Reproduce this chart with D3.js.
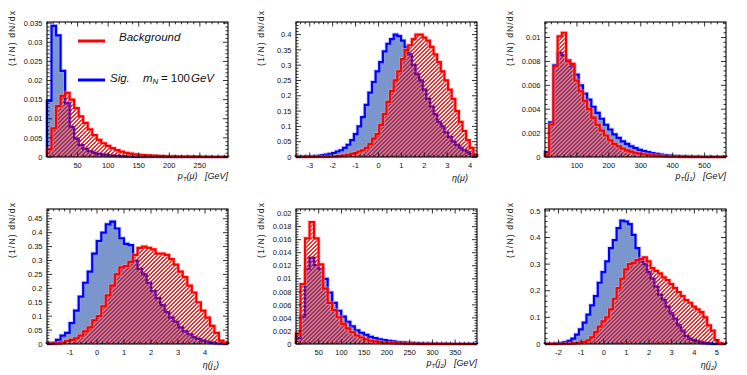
<!DOCTYPE html>
<html>
<head>
<meta charset="utf-8">
<script src="https://cdn.jsdelivr.net/npm/d3@7/dist/d3.min.js"></script>
<style>
  body { margin: 0; background: #fff; }
  svg { font-family: "Liberation Sans", Arial, Helvetica, sans-serif; }
  text { white-space: pre; }
</style>
</head>
<body>
<div id="chart"></div>
<script>
// ---- data (normalised bin contents) ----
// pT(mu), 40 bins
const ptMuSig = [0.0147, 0.0343, 0.0318, 0.0225, 0.0140, 0.0078, 0.0048, 0.0031, 0.0021, 0.0015,
  0.0011, 0.0008, 0.0006, 0.00045, 0.00035, 0.00028, 0.00022, 0.00018, 0.00014, 0.00011,
  0.00009, 0.00007, 0.00006, 0.00005, 0.00004, 0.00003, 0.00003, 0.00002, 0.00002, 0.00002,
  0.00001, 0.00001, 0.00001, 0.00001, 0.00001, 0.00001, 0, 0, 0, 0];
const ptMuBkg = [0.0020, 0.0075, 0.0133, 0.0160, 0.0168, 0.0150, 0.0128, 0.0106, 0.0089, 0.0072,
  0.0057, 0.0045, 0.0036, 0.0029, 0.0023, 0.0018, 0.0014, 0.0011, 0.0009, 0.0007,
  0.00058, 0.00048, 0.0004, 0.00034, 0.00028, 0.00024, 0.0002, 0.00017, 0.00015, 0.00013,
  0.00011, 0.0001, 0.00009, 0.00008, 0.00007, 0.00006, 0.00005, 0.00005, 0.00004, 0.00004];

// eta(mu), 50 bins
const etaMuSig = [0.001, 0.001, 0.001, 0.002, 0.002, 0.003, 0.004, 0.006, 0.008, 0.010,
  0.013, 0.018, 0.022, 0.030, 0.040, 0.055, 0.075, 0.100, 0.130, 0.170,
  0.210, 0.245, 0.280, 0.310, 0.345, 0.370, 0.385, 0.400, 0.395, 0.380,
  0.360, 0.335, 0.300, 0.270, 0.250, 0.220, 0.190, 0.165, 0.140, 0.115,
  0.100, 0.080, 0.065, 0.050, 0.040, 0.030, 0.022, 0.015, 0.010, 0.003];
const etaMuBkg = [0.001, 0.001, 0.001, 0.001, 0.001, 0.001, 0.001, 0.001, 0.001, 0.002,
  0.002, 0.003, 0.004, 0.005, 0.007, 0.010, 0.013, 0.018, 0.022, 0.030,
  0.042, 0.060, 0.075, 0.105, 0.140, 0.180, 0.215, 0.250, 0.280, 0.320,
  0.350, 0.365, 0.385, 0.400, 0.400, 0.390, 0.380, 0.360, 0.335, 0.310,
  0.280, 0.250, 0.220, 0.190, 0.150, 0.115, 0.085, 0.055, 0.030, 0.005];

// pT(j1), 43 bins
const ptJ1Sig = [0.0004, 0.0029, 0.0077, 0.0087, 0.0085, 0.0081, 0.0076, 0.0069, 0.0060, 0.0053,
  0.0048, 0.0042, 0.0037, 0.0032, 0.0027, 0.0023, 0.0019, 0.0016, 0.0013, 0.0011,
  0.0009, 0.00075, 0.0006, 0.0005, 0.0004, 0.00032, 0.00026, 0.0002, 0.00016, 0.00013,
  0.0001, 0.00008, 0.00006, 0.00005, 0.00004, 0.00003, 0.00003, 0.00002, 0.00002, 0.00001,
  0.00001, 0.00001, 0.00001];
const ptJ1Bkg = [0.0002, 0.0027, 0.0076, 0.0101, 0.0104, 0.0080, 0.0078, 0.0064, 0.0055, 0.0047,
  0.0040, 0.0033, 0.0027, 0.0022, 0.0018, 0.0014, 0.0011, 0.0009, 0.0007, 0.00055,
  0.00045, 0.00035, 0.00028, 0.00022, 0.00018, 0.00014, 0.00011, 0.00009, 0.00007, 0.00006,
  0.00005, 0.00004, 0.00003, 0.00003, 0.00002, 0.00002, 0.00002, 0.00001, 0.00001, 0.00001,
  0.00001, 0.00001, 0.00001];

// eta(j1), 40 bins
const etaJ1Sig = [0.002, 0.004, 0.015, 0.030, 0.040, 0.075, 0.120, 0.170, 0.220, 0.260,
  0.325, 0.370, 0.400, 0.430, 0.440, 0.415, 0.380, 0.360, 0.355, 0.300,
  0.270, 0.250, 0.220, 0.190, 0.165, 0.140, 0.115, 0.095, 0.080, 0.060,
  0.045, 0.035, 0.025, 0.018, 0.012, 0.008, 0.005, 0.003, 0.002, 0.001];
const etaJ1Bkg = [0.001, 0.001, 0.002, 0.005, 0.010, 0.015, 0.020, 0.030, 0.045, 0.060,
  0.085, 0.100, 0.135, 0.175, 0.210, 0.250, 0.275, 0.280, 0.295, 0.320,
  0.345, 0.350, 0.345, 0.340, 0.325, 0.325, 0.320, 0.305, 0.285, 0.260,
  0.240, 0.210, 0.185, 0.150, 0.120, 0.095, 0.065, 0.040, 0.012, 0.002];

// pT(j2), 40 bins
const ptJ2Sig = [0.0009, 0.0042, 0.0115, 0.0132, 0.0121, 0.0115, 0.0100, 0.0079, 0.0063, 0.0051,
  0.0042, 0.0034, 0.0027, 0.0021, 0.0017, 0.0014, 0.0011, 0.0009, 0.0007, 0.0006,
  0.0005, 0.0004, 0.0003, 0.00025, 0.0002, 0.00016, 0.00013, 0.0001, 0.00008, 0.00006,
  0.00005, 0.00004, 0.00003, 0.00003, 0.00002, 0.00002, 0.00001, 0.00001, 0.00001, 0.00001];
const ptJ2Bkg = [0.0016, 0.0092, 0.0162, 0.0187, 0.0162, 0.0122, 0.0085, 0.0063, 0.0052, 0.0041,
  0.0031, 0.0024, 0.0018, 0.0013, 0.0010, 0.0007, 0.0005, 0.0004, 0.0003, 0.0002,
  0.00015, 0.00012, 0.0001, 0.00008, 0.00006, 0.00005, 0.00004, 0.00003, 0.00002, 0.00002,
  0.00001, 0.00001, 0.00001, 0.00001, 0, 0, 0, 0, 0, 0];

// eta(j2), 48 bins
const etaJ2Sig = [0.0005, 0.001, 0.001, 0.002, 0.004, 0.007, 0.012, 0.020, 0.035, 0.055,
  0.080, 0.110, 0.145, 0.180, 0.230, 0.270, 0.310, 0.360, 0.390, 0.435,
  0.463, 0.460, 0.450, 0.410, 0.360, 0.310, 0.300, 0.270, 0.245, 0.215,
  0.185, 0.165, 0.140, 0.115, 0.095, 0.070, 0.050, 0.030, 0.020, 0.015,
  0.010, 0.006, 0.003, 0.002, 0.001, 0.0005, 0.0005, 0.0005];
const etaJ2Bkg = [0.0005, 0.0005, 0.0005, 0.001, 0.001, 0.001, 0.0015, 0.002, 0.003, 0.005,
  0.008, 0.014, 0.025, 0.045, 0.065, 0.085, 0.100, 0.130, 0.170, 0.210,
  0.245, 0.280, 0.300, 0.305, 0.315, 0.320, 0.325, 0.310, 0.285, 0.275,
  0.265, 0.250, 0.240, 0.225, 0.210, 0.195, 0.180, 0.165, 0.155, 0.140,
  0.130, 0.120, 0.100, 0.070, 0.050, 0.015, 0.002, 0.001];

// axis ranges and tick values
const xRanges = [[0, 296], [-3.6, 4.3], [0, 567], [-1.85, 4.85], [0, 398], [-2.6, 5.4]];
const yMaxes = [0.0353, 0.441, 0.0113, 0.485, 0.0207, 0.507];
const xTickVals = [
  [50, 100, 150, 200, 250],
  [-3, -2, -1, 0, 1, 2, 3, 4],
  [100, 200, 300, 400, 500],
  [-1, 0, 1, 2, 3, 4],
  [50, 100, 150, 200, 250, 300, 350],
  [-2, -1, 0, 1, 2, 3, 4, 5]
];
const xMinorSteps = [10, 0.2, 20, 0.2, 10, 0.2];
const yTickVals = [
  [0, 0.005, 0.01, 0.015, 0.02, 0.025, 0.03, 0.035],
  [0, 0.05, 0.1, 0.15, 0.2, 0.25, 0.3, 0.35, 0.4],
  [0, 0.002, 0.004, 0.006, 0.008, 0.01],
  [0, 0.05, 0.1, 0.15, 0.2, 0.25, 0.3, 0.35, 0.4, 0.45],
  [0, 0.002, 0.004, 0.006, 0.008, 0.01, 0.012, 0.014, 0.016, 0.018, 0.02],
  [0, 0.1, 0.2, 0.3, 0.4, 0.5]
];
const yMinorSteps = [0.001, 0.01, 0.0004, 0.01, 0.0004, 0.02];
// x titles: [italic main, subscript, argument, unit, argument subscript]
const xTitles = [["p", "T", "(\u03bc)", "[GeV]"], ["\u03b7", "", "(\u03bc)", ""], ["p", "T", "(j", "[GeV]", "1"],
  ["\u03b7", "", "(j", "", "1"], ["p", "T", "(j", "[GeV]", "2"], ["\u03b7", "", "(j", "", "2"]];
const yTitle = "(1/N) dN/dx";
const legendLabels = ["Background", "Sig."];

const sigSeries = [ptMuSig, etaMuSig, ptJ1Sig, etaJ1Sig, ptJ2Sig, etaJ2Sig];
const bkgSeries = [ptMuBkg, etaMuBkg, ptJ1Bkg, etaJ1Bkg, ptJ2Bkg, etaJ2Bkg];

// ---- layout ----
const width = 747, height = 375;
const colX = [47, 296, 545], rowY = [22, 209];
const frameW = 181, frameH = 135;
const sigFill = "#7a96cd", sigLine = "#0000ff", bkgLine = "#ff0000";

const svg = d3.select("#chart").append("svg")
  .attr("width", width).attr("height", height);

// pixel hatch, "/" direction like root's 3004 style
const defs = svg.append("defs");
const hatch = defs.append("pattern")
  .attr("id", "hatch")
  .attr("patternUnits", "userSpaceOnUse")
  .attr("width", 4).attr("height", 4);
[[0, 3, 2], [1, 2, 2], [2, 1, 2], [3, 0, 1], [0, 0, 1]].forEach(([px, py, w]) => {
  hatch.append("rect").attr("x", px).attr("y", py).attr("width", w).attr("height", 1)
    .attr("fill", bkgLine).attr("opacity", 0.85);
});

const stepPoints = (vals, lo, hi) => {
  const n = vals.length;
  const edges = d3.range(n + 1).map(i => lo + (i * (hi - lo)) / n);
  const pts = [[edges[0], 0]];
  vals.forEach((v, i) => {
    pts.push([edges[i], v]);
    pts.push([edges[i + 1], v]);
  });
  pts.push([edges[n], 0]);
  return pts;
};

const minorTicks = (lo, hi, step) => {
  const start = Math.ceil(lo / step - 1e-9);
  const end = Math.floor(hi / step + 1e-9);
  return d3.range(start, end + 1).map(k => k * step);
};

const fmt = v => String(+v.toPrecision(6));

sigSeries.forEach((sig, p) => {
  const bkg = bkgSeries[p];
  const left = colX[p % 3], top = rowY[Math.floor(p / 3)];
  const [lo, hi] = xRanges[p];
  const x = d3.scaleLinear().domain([lo, hi]).range([0, frameW]);
  const y = d3.scaleLinear().domain([0, yMaxes[p]]).range([frameH, 0]);
  const g = svg.append("g").attr("transform", `translate(${left},${top})`);
  const line = d3.line().x(d => x(d[0])).y(d => y(d[1]));

  const sp = stepPoints(sig, lo, hi);
  const bp = stepPoints(bkg, lo, hi);

  // signal: filled
  g.append("path").attr("d", line(sp) + "Z").attr("fill", sigFill);
  g.append("path").attr("d", line(sp)).attr("fill", "none")
    .attr("stroke", "#9aa8f4").attr("stroke-width", 4).attr("opacity", 0.5);
  g.append("path").attr("d", line(sp)).attr("fill", "none")
    .attr("stroke", sigLine).attr("stroke-width", 2.2);

  // background: hatched
  g.append("path").attr("d", line(bp) + "Z").attr("fill", "url(#hatch)");
  g.append("path").attr("d", line(bp)).attr("fill", "none")
    .attr("stroke", "#f7a0a0").attr("stroke-width", 4).attr("opacity", 0.5);
  g.append("path").attr("d", line(bp)).attr("fill", "none")
    .attr("stroke", bkgLine).attr("stroke-width", 2.2);

  // frame
  g.append("rect").attr("width", frameW).attr("height", frameH)
    .attr("fill", "none").attr("stroke", "#000").attr("stroke-width", 1.1);

  // ticks (inside, mirrored)
  const tg = g.append("g").attr("stroke", "#000").attr("stroke-width", 0.8);
  const xMaj = xTickVals[p];
  const xMin = minorTicks(lo, hi, xMinorSteps[p]);
  xMin.forEach(v => {
    const isMaj = xMaj.some(m => Math.abs(m - v) < 1e-9);
    const len = isMaj ? 4.5 : 2.3;
    tg.append("line").attr("x1", x(v)).attr("x2", x(v)).attr("y1", frameH).attr("y2", frameH - len);
    tg.append("line").attr("x1", x(v)).attr("x2", x(v)).attr("y1", 0).attr("y2", len);
  });
  const yMaj = yTickVals[p];
  const yMin = minorTicks(0, yMaxes[p], yMinorSteps[p]);
  yMin.forEach(v => {
    const isMaj = yMaj.some(m => Math.abs(m - v) < 1e-9);
    const len = isMaj ? 5 : 2.5;
    tg.append("line").attr("x1", 0).attr("x2", len).attr("y1", y(v)).attr("y2", y(v));
    tg.append("line").attr("x1", frameW).attr("x2", frameW - len).attr("y1", y(v)).attr("y2", y(v));
  });

  // tick labels
  g.selectAll("text.xt").data(xMaj).enter().append("text")
    .attr("x", d => x(d)).attr("y", frameH + 11)
    .attr("text-anchor", "middle").attr("font-size", 7.5).attr("fill", "#111")
    .text(fmt);
  g.selectAll("text.yt").data(yMaj).enter().append("text")
    .attr("x", -4.5).attr("y", d => y(d) + 2.7)
    .attr("text-anchor", "end").attr("font-size", 7.5).attr("fill", "#111")
    .text(fmt);

  // y title
  g.append("text")
    .attr("transform", `translate(-32,${p < 3 ? -11 : -6}) rotate(-90)`)
    .attr("text-anchor", "end").attr("font-size", 8.5).attr("fill", "#222")
    .attr("textLength", 55).attr("lengthAdjust", "spacing")
    .text(yTitle);

  // x title
  const t = xTitles[p];
  const isPt = t[3] !== "";
  const xt = g.append("text")
    .attr("x", isPt ? frameW : frameW - 9)
    .attr("y", frameH + (isPt ? 21.5 : 24))
    .attr("text-anchor", "end").attr("font-size", 9).attr("font-style", "italic").attr("fill", "#111");
  xt.append("tspan").text(t[0]);
  if (t[1]) xt.append("tspan").attr("font-size", 6).attr("dy", 2).text(t[1]);
  xt.append("tspan").attr("dy", t[1] ? -2 : 0).text(t[2]);
  if (t[4]) {
    xt.append("tspan").attr("font-size", 6).attr("dy", 2).text(t[4]);
    xt.append("tspan").attr("dy", -2).text(")");
  }
  if (isPt) xt.append("tspan").text("   " + t[3]);
});

// legend in first panel
const lg = svg.append("g").attr("transform", `translate(${colX[0]},${rowY[0]})`);
lg.append("line").attr("x1", 31).attr("x2", 58).attr("y1", 19).attr("y2", 19)
  .attr("stroke", bkgLine).attr("stroke-width", 3);
lg.append("line").attr("x1", 31).attr("x2", 58).attr("y1", 58).attr("y2", 58)
  .attr("stroke", sigLine).attr("stroke-width", 3);
lg.append("text").attr("x", 72).attr("y", 19).attr("font-size", 11.5)
  .attr("font-style", "italic").attr("fill", "#111").text(legendLabels[0]);
const st = lg.append("text").attr("x", 63).attr("y", 59.5).attr("font-size", 11.5).attr("fill", "#111");
st.append("tspan").attr("font-style", "italic").text(legendLabels[1]);
st.append("tspan").attr("x", 96).attr("font-style", "italic").text("m");
st.append("tspan").attr("font-style", "italic").attr("font-size", 8).attr("dy", 2.5).text("N");
st.append("tspan").attr("dy", -2.5).attr("dx", 2.5).text("= 100");
st.append("tspan").attr("font-style", "italic").attr("dx", 1).text("GeV");
</script>
</body>
</html>
